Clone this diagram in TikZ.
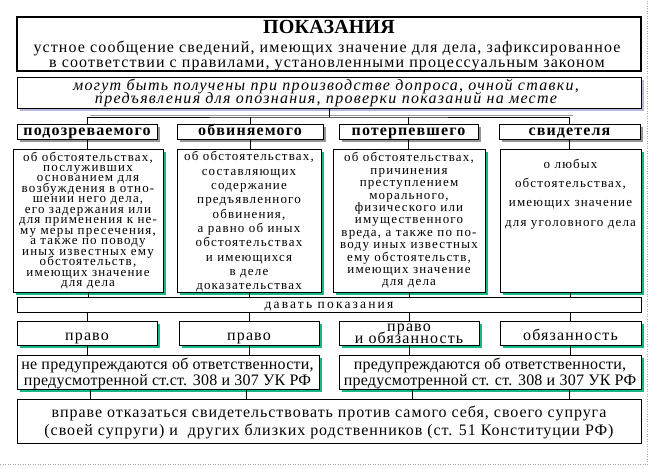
\documentclass[tikz,border=0pt]{standalone}
\usepackage{fontspec}
\setmainfont{Liberation Serif}
\usetikzlibrary{shadows,calc}
\definecolor{shgreen}{RGB}{20,185,135}
\definecolor{shgray}{RGB}{150,150,150}
\definecolor{shlav}{RGB}{185,185,220}
\newcommand\myfs[3]{\fontsize{#1}{#2}\selectfont\addfontfeature{LetterSpace=#3}\lineskiplimit=-50pt\lineskip=0pt}
\newcommand\mybfs[3]{\fontsize{#1}{#2}\selectfont\bfseries\addfontfeature{LetterSpace=#3}\lineskiplimit=-50pt\lineskip=0pt}
\newcommand\myitfs[3]{\fontsize{#1}{#2}\selectfont\itshape\addfontfeature{LetterSpace=#3}\lineskiplimit=-50pt\lineskip=0pt}
\begin{document}
\begin{tikzpicture}[x=1pt,y=-1pt,
  box/.style={draw=black, line width=0.8pt, fill=white, inner sep=0pt},
  gsh/.style={general shadow={fill=shgreen, shadow xshift=3pt, shadow yshift=-3pt}},
  graysh/.style={general shadow={fill=shgray, shadow xshift=3pt, shadow yshift=-3pt}},
  lavsh/.style={general shadow={fill=shlav, shadow xshift=3pt, shadow yshift=-3pt}},
  txt/.style={inner sep=0pt, align=center},
  conn/.style={draw=black, line width=0.8pt},
  hfont/.style={font=\mybfs{16}{16}{7}},
  bfont/.style={font=\myfs{13}{#1}{9}},
  pfont/.style={font=\myfs{16}{12}{7}},
  qfont/.style={font=\myfs{16}{16}{1.5}}]
\useasboundingbox (0,0) rectangle (660,468);
\fill[white] (0,0) rectangle (660,468);
% dotted frame
\draw[gray!70, line width=0.6pt, dash pattern=on 1pt off 1.5pt] (0,464.5) -- (647.5,464.5) -- (647.5,0);

% title
\node[box, line width=1.6pt, minimum width=624pt, minimum height=54pt] (title) at (329,44) {};
\node[txt, font=\mybfs{20}{20}{1}, anchor=base] (ttl) at (329,34) {ПОКАЗАНИЯ};
\node[txt, font=\myfs{16}{14.5}{7}] (tsub) at (327,56)
  {устное сообщение сведений, имеющих значение для дела, зафиксированное\\
   в соответствии с правилами, установленными процессуальным законом};

% mogut box
\node[box, lavsh, minimum width=624pt, minimum height=31pt] (mog) at (329,92.5) {};
\node[txt, font=\myitfs{16}{13}{8}] (mogt) at (326,93)
  {могут быть получены при производстве допроса, очной ставки,\\
   предъявления для опознания, проверки показаний на месте};

% bus
\coordinate (bus) at (329,117);
\draw[shgray, line width=1pt] (90,115) -- (573,115);

% headers
\node[box, graysh, minimum width=140pt, minimum height=15pt] (h1) at (87,131.5) {};
\node[box, graysh, minimum width=146pt, minimum height=15pt] (h2) at (250,131.5) {};
\node[box, graysh, minimum width=139pt, minimum height=15pt] (h3) at (408.5,131.5) {};
\node[box, graysh, minimum width=141pt, minimum height=15pt] (h4) at (569.5,131.5) {};
\node[txt, hfont, anchor=base] (h1t) at ($(h1)+(0,4)$) {подозреваемого};
\node[txt, hfont, anchor=base] (h2t) at ($(h2)+(0,4)$) {обвиняемого};
\node[txt, hfont, anchor=base] (h3t) at ($(h3)+(0,4)$) {потерпевшего};
\node[txt, hfont, anchor=base] (h4t) at ($(h4)+(0,4)$) {свидетеля};

\draw[conn] (mog.south) -- (bus);
\draw[conn] (h1.north) |- (bus) -| (h4.north);
\draw[conn] (h2.north) -- (h2.north |- bus);
\draw[conn] (h3.north) -- (h3.north |- bus);

% text boxes
\node[box, gsh, minimum width=150pt, minimum height=143pt] (t1) at (88,220.5) {};
\node[box, gsh, minimum width=144pt, minimum height=143pt] (t2) at (249,220.5) {};
\node[box, gsh, minimum width=152pt, minimum height=143pt] (t3) at (409,220.5) {};
\node[box, gsh, minimum width=141pt, minimum height=143pt] (t4) at (570.5,220.5) {};
\node[txt, bfont=10.45] (t1t) at (88,220.4)
  {об обстоятельствах,\\послуживших\\основанием для\\возбуждения в отно-\\шении него дела,\\его задержания или\\для применения к не-\\му меры пресечения,\\а также по поводу\\иных известных ему\\обстоятельств,\\имеющих значение\\для дела};
\node[txt, bfont=14.3] (t2t) at (249,221.9)
  {об обстоятельствах,\\составляющих\\содержание\\предъявленного\\обвинения,\\а равно об иных\\обстоятельствах\\и имеющихся\\в деле\\доказательствах};
\node[txt, bfont=12.4] (t3t) at (409,220.5)
  {об обстоятельствах,\\причинения\\преступлением\\морального,\\физического или\\имущественного\\вреда, а также по по-\\воду иных известных\\ему обстоятельств,\\имеющих значение\\для дела};
\node[txt, bfont=19.4] (t4t) at (570.5,194)
  {о любых\\обстоятельствах,\\имеющих значение\\для уголовного дела};

\draw[conn] (h1.south) -- (h1.south |- t1.north);
\draw[conn] (h2.south) -- (h2.south |- t2.north);
\draw[conn] (h3.south) -- (h3.south |- t3.north);
\draw[conn] (h4.south) -- (h4.south |- t4.north);

% davat
\node[box, minimum width=624pt, minimum height=15pt] (dav) at (329,304.5) {};
\node[txt, font=\myfs{13.5}{13.5}{16}, anchor=base] (davt) at (329,308.5) {давать показания};
\draw[conn] (t1.south) -- (t1.south |- dav.north);
\draw[conn] (t2.south) -- (t2.south |- dav.north);
\draw[conn] (t3.south) -- (t3.south |- dav.north);
\draw[conn] (t4.south) -- (t4.south |- dav.north);

% pravo boxes
\node[box, gsh, minimum width=140pt, minimum height=24pt] (p1) at (87,333) {};
\node[box, gsh, minimum width=140pt, minimum height=24pt] (p2) at (249,333) {};
\node[box, gsh, minimum width=140pt, minimum height=24pt] (p3) at (409,333) {};
\node[box, gsh, minimum width=141pt, minimum height=24pt] (p4) at (570.5,333) {};
\node[txt, pfont, anchor=base] (p1t) at (87,340) {право};
\node[txt, pfont, anchor=base] (p2t) at (249,340) {право};
\node[txt, pfont] (p3t) at (409,333.5) {право\\и обязанность};
\node[txt, pfont, anchor=base] (p4t) at (570.5,340) {обязанность};
\draw[conn] (p1.north |- dav.south) -- (p1.north);
\draw[conn] (p2.north |- dav.south) -- (p2.north);
\draw[conn] (p3.north |- dav.south) -- (p3.north);
\draw[conn] (p4.north |- dav.south) -- (p4.north);

% pair boxes
\node[box, gsh, minimum width=302pt, minimum height=34pt] (q1) at (168,372) {};
\node[box, gsh, minimum width=302pt, minimum height=34pt] (q2) at (490,372) {};
\node[txt, qfont] (q1t) at (167.5,373.5)
  {не предупреждаются об ответственности,\\предусмотренной ст.ст. 308 и 307 УК РФ};
\node[txt, qfont] (q2t) at (490,373.5)
  {предупреждаются об ответственности,\\предусмотренной ст. ст. 308 и 307 УК РФ};
\draw[conn] (p1.south) -- (p1.south |- q1.north);
\draw[conn] (p2.south) -- (p2.south |- q1.north);
\draw[conn] (p3.south) -- (p3.south |- q2.north);
\draw[conn] (p4.south) -- (p4.south |- q2.north);

% bottom box
\node[box, minimum width=624pt, minimum height=44pt] (bot) at (329,421) {};
\node[txt, font=\myfs{16}{18}{6}] (bott) at (329,422.5)
  {вправе отказаться свидетельствовать против самого себя, своего супруга\\
   (своей супруги) и~ других близких родственников (ст. 51 Конституции РФ)};
\draw[conn] ($(q1.south)+(-78,0)$) -- ($(q1.south |- bot.north)+(-78,0)$);
\draw[conn] ($(q1.south)+(78,0)$) -- ($(q1.south |- bot.north)+(78,0)$);
\draw[conn] ($(q2.south)+(-78,0)$) -- ($(q2.south |- bot.north)+(-78,0)$);
\draw[conn] ($(q2.south)+(79,0)$) -- ($(q2.south |- bot.north)+(79,0)$);
\end{tikzpicture}
\end{document}
